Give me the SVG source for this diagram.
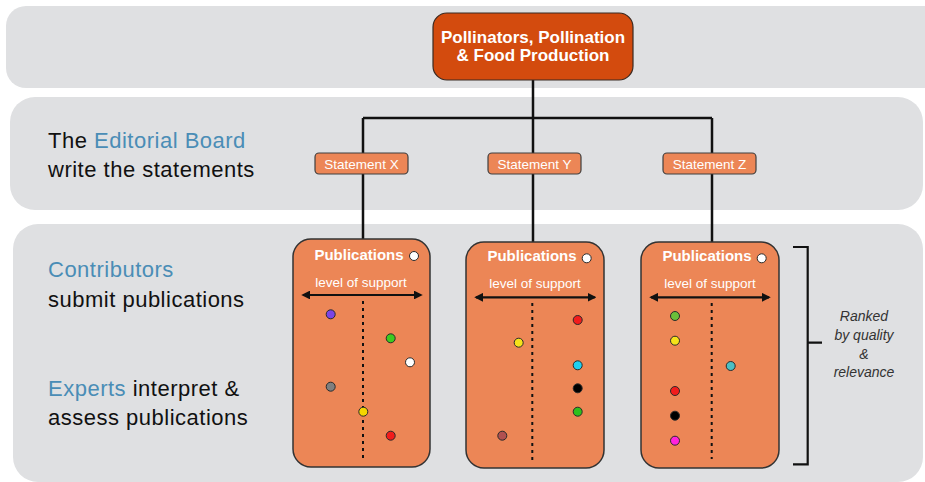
<svg xmlns="http://www.w3.org/2000/svg" width="925" height="482" viewBox="0 0 925 482">
<defs>
<style>
.band{fill:#dfe0e2}
.main{fill:#d34b0e;stroke:#3a2a22;stroke-width:1.2}
.stmt{fill:#ec8656;stroke:#3f3f3f;stroke-width:1.2}
.pub{fill:#ec8656;stroke:#333;stroke-width:1.5}
.wire{fill:none;stroke:#111;stroke-width:2.5}
.arrow{stroke:#111;stroke-width:2.2}
.dots{stroke:#111;stroke-width:2;stroke-dasharray:3 4}
.dot{stroke:#2a2a2a;stroke-width:1}
.bracket{fill:none;stroke:#111;stroke-width:2.2}
text{font-family:"Liberation Sans",Arial,sans-serif}
.mt{fill:#fff;font-size:17px;font-weight:bold;text-anchor:middle}
.st{fill:#fff;font-size:13.5px;text-anchor:middle}
.pt{fill:#fff;font-size:15px;font-weight:bold;text-anchor:middle}
.lt{fill:#fff;font-size:13.5px;text-anchor:middle}
.side{fill:#111;font-size:22px;letter-spacing:0.5px}
.blue{fill:#4a8db6}
.rk{fill:#333;font-size:14px;font-style:italic;text-anchor:middle}
</style>
<marker id="ah" viewBox="0 0 10 10" refX="8" refY="5" markerWidth="4" markerHeight="4" orient="auto-start-reverse">
<path d="M0,0 L10,5 L0,10 z" fill="#111"/>
</marker>
</defs>
<rect width="925" height="482" fill="#fff"/>
<g id="bands">
<rect class="band" x="6" y="6" width="940" height="82" rx="20"/>
<rect class="band" x="10" y="97" width="913" height="113" rx="25"/>
<rect class="band" x="13" y="224" width="910" height="258" rx="25"/>
</g>
<g id="connectors">
<path class="wire" d="M533,80 V118 M363,118 H712 M363,118 V153 M533,118 V153 M712,118 V153 M363,174 V240 M533,174 V242 M712,174 V242"/>
</g>
<g id="main">
<rect class="main" x="433" y="13" width="200" height="67" rx="14"/>
<text class="mt" x="533" y="43">Pollinators, Pollination</text>
<text class="mt" x="533" y="61">&amp; Food Production</text>
</g>
<g id="statement-x">
<rect class="stmt" x="315" y="153" width="93" height="21" rx="4"/>
<text class="st" x="361.5" y="168.5">Statement X</text>
</g>
<g id="statement-y">
<rect class="stmt" x="488" y="153" width="93" height="21" rx="4"/>
<text class="st" x="534.5" y="168.5">Statement Y</text>
</g>
<g id="statement-z">
<rect class="stmt" x="663" y="153" width="93" height="21" rx="4"/>
<text class="st" x="709.5" y="168.5">Statement Z</text>
</g>
<g id="publications-x">
<rect class="pub" x="293" y="239" width="137" height="228" rx="18"/>
<text class="pt" x="359" y="260">Publications</text>
<circle class="dot" cx="414" cy="256" r="4.5" fill="#fff"/>
<text class="lt" x="361" y="287">level of support</text>
<line class="arrow" x1="303" y1="295" x2="421" y2="295" marker-start="url(#ah)" marker-end="url(#ah)"/>
<line class="dots" x1="363" y1="301" x2="363" y2="458"/>
<circle class="dot" cx="330.7" cy="314.3" r="4.5" fill="#7b44e6"/>
<circle class="dot" cx="390.7" cy="338.3" r="4.5" fill="#3dcb1f"/>
<circle class="dot" cx="410" cy="362.3" r="4.5" fill="#fff"/>
<circle class="dot" cx="330.7" cy="386.7" r="4.5" fill="#7f7f7f"/>
<circle class="dot" cx="363.3" cy="411.7" r="4.5" fill="#f5d600"/>
<circle class="dot" cx="390.7" cy="435.7" r="4.5" fill="#f21c1c"/>
</g>
<g id="publications-y">
<rect class="pub" x="466" y="242" width="138" height="226" rx="18"/>
<text class="pt" x="532" y="261">Publications</text>
<circle class="dot" cx="586.7" cy="258.3" r="4.5" fill="#fff"/>
<text class="lt" x="535" y="288">level of support</text>
<line class="arrow" x1="476" y1="297.3" x2="594.7" y2="297.3" marker-start="url(#ah)" marker-end="url(#ah)"/>
<line class="dots" x1="532.3" y1="303" x2="532.3" y2="461"/>
<circle class="dot" cx="577.7" cy="320" r="4.5" fill="#f21c1c"/>
<circle class="dot" cx="518.7" cy="342.7" r="4.5" fill="#f5e21a"/>
<circle class="dot" cx="577.7" cy="365.3" r="4.5" fill="#1fd0f0"/>
<circle class="dot" cx="577.7" cy="388.3" r="4.5" fill="#000"/>
<circle class="dot" cx="577.7" cy="411.7" r="4.5" fill="#2fbf1c"/>
<circle class="dot" cx="502.3" cy="435.7" r="4.5" fill="#b05050"/>
</g>
<g id="publications-z">
<rect class="pub" x="641" y="242" width="138" height="226" rx="18"/>
<text class="pt" x="707" y="261">Publications</text>
<circle class="dot" cx="761.7" cy="258.3" r="4.5" fill="#fff"/>
<text class="lt" x="710" y="288">level of support</text>
<line class="arrow" x1="651" y1="297.3" x2="769" y2="297.3" marker-start="url(#ah)" marker-end="url(#ah)"/>
<line class="dots" x1="711.7" y1="303" x2="711.7" y2="459"/>
<circle class="dot" cx="675" cy="316" r="4.5" fill="#6bbf3a"/>
<circle class="dot" cx="675" cy="340.7" r="4.5" fill="#f5e21a"/>
<circle class="dot" cx="730.7" cy="366" r="4.5" fill="#4bbfc4"/>
<circle class="dot" cx="675" cy="391" r="4.5" fill="#f21c1c"/>
<circle class="dot" cx="675" cy="415.7" r="4.5" fill="#000"/>
<circle class="dot" cx="675" cy="440.7" r="4.5" fill="#ff22dd"/>
</g>
<g id="ranking">
<path class="bracket" d="M793,247 H807.7 V464.3 H793 M807.7,342.7 H822"/>
<text class="rk" x="864" y="320.7">Ranked</text>
<text class="rk" x="864" y="340">by quality</text>
<text class="rk" x="864" y="359.3">&amp;</text>
<text class="rk" x="864" y="377.3">relevance</text>
</g>
<g id="labels">
<text class="side" x="48" y="148">The <tspan class="blue">Editorial Board</tspan></text>
<text class="side" x="48" y="177">write the statements</text>
<text class="side" x="48" y="277"><tspan class="blue">Contributors</tspan></text>
<text class="side" x="48" y="307">submit publications</text>
<text class="side" x="48" y="396"><tspan class="blue">Experts</tspan> interpret &amp;</text>
<text class="side" x="48" y="425">assess publications</text>
</g>
</svg>
